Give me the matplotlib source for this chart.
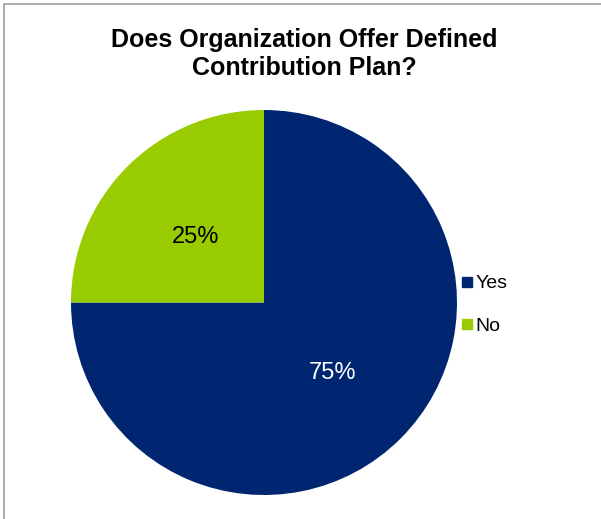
import matplotlib
matplotlib.use("Agg")
import matplotlib.pyplot as plt
from matplotlib.patches import Rectangle
from matplotlib.lines import Line2D

labels = ["Yes", "No"]
shares = [75, 25]
colors = ["#002672", "#99CC00"]
title = "Does Organization Offer Defined\nContribution Plan?"

plt.rcParams["font.family"] = ["Liberation Sans", "DejaVu Sans"]

W, H = 601, 519
fig = plt.figure(figsize=(W / 100, H / 100), dpi=100)

# chart-area border (only top and left edges fall inside the image)
fig.patches.append(Rectangle((4 / W, -0.1), 1.2, 1.1 - 4 / H, transform=fig.transFigure,
                             fill=False, edgecolor="#a6a6a6", linewidth=1.3))

ax = fig.add_axes([71 / W, 24 / H, 386 / W, 385 / H])
wedges, texts, autotexts = ax.pie(
    shares, colors=colors, startangle=90, counterclock=False, radius=1,
    autopct="%d%%", pctdistance=0.5,
    textprops={"fontsize": 17, "va": "center_baseline"})
autotexts[0].set_color("white")
autotexts[1].set_color("black")
ax.set_xlim(-1, 1)
ax.set_ylim(-1, 1)
ax.set_aspect("auto")
ax.axis("off")

fig.text(304 / W, 1 - 54 / H, title, ha="center", va="center", fontsize=18,
         fontweight="bold", linespacing=1.22)

handles = [Line2D([], [], marker="s", linestyle="", markersize=7.2,
                  markerfacecolor=c, markeredgecolor=c) for c in colors]
fig.legend(handles, labels, loc="center left", bbox_to_anchor=(462 / W, 1 - 305 / H),
           frameon=False, fontsize=14, handletextpad=0.2, labelspacing=1.3,
           handlelength=0.5, borderaxespad=0, borderpad=0)

fig.savefig("out.png", dpi=100)
